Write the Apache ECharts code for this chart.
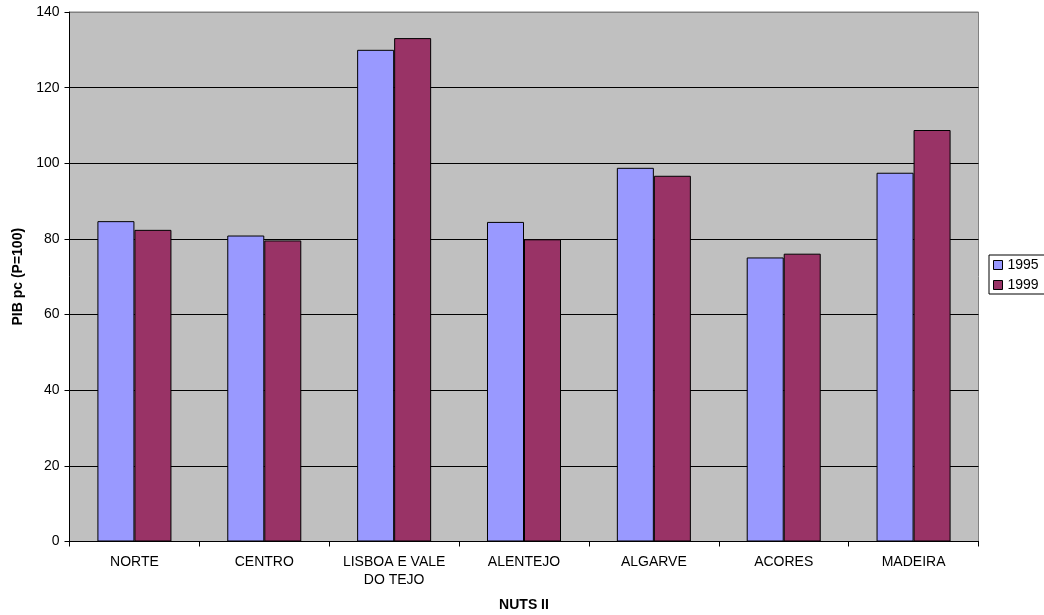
<!DOCTYPE html>
<html>
<head>
<meta charset="utf-8">
<script src="https://cdn.jsdelivr.net/npm/echarts@6/dist/echarts.min.js"></script>
<style>
  html, body { margin: 0; padding: 0; background: #fff; }
  #chart { width: 1044px; height: 615px; }
</style>
</head>
<body>
<div id="chart"></div>
<script>
// GDP per capita by NUTS II region (Portugal = 100)
const categories = ['NORTE', 'CENTRO', 'LISBOA E VALE\nDO TEJO', 'ALENTEJO', 'ALGARVE', 'ACORES', 'MADEIRA'];
const values1995 = [84.7, 80.9, 130.0, 84.5, 98.8, 75.1, 97.5];
const values1999 = [82.4, 79.6, 133.1, 79.9, 96.7, 76.1, 108.8];
const seriesNames = ['1995', '1999'];
const yTicks = [0, 20, 40, 60, 80, 100, 120, 140];

const font = 'Liberation Sans, Arial, sans-serif';
const chart = echarts.init(document.getElementById('chart'), null, { renderer: 'canvas' });

chart.setOption({
  animation: false,
  backgroundColor: '#ffffff',
  textStyle: { fontFamily: font },
  grid: {
    left: 69.5, right: 65.5, top: 12, bottom: 73.5,
    outerBoundsMode: 'none',
    containLabel: false,
    show: true, backgroundColor: '#C0C0C0', borderColor: '#808080', borderWidth: 1
  },
  legend: {
    orient: 'vertical',
    left: 989, top: 255,
    data: seriesNames,
    icon: 'rect',
    itemWidth: 9, itemHeight: 9, itemGap: 6,
    padding: [3, 30, 2, 4],
    borderColor: '#000', borderWidth: 1,
    backgroundColor: '#fff',
    itemStyle: { borderColor: '#000', borderWidth: 1 },
    textStyle: { fontFamily: font, fontSize: 14, color: '#000' }
  },
  xAxis: {
    type: 'category',
    data: categories,
    boundaryGap: true,
    name: 'NUTS II',
    nameLocation: 'middle',
    nameGap: 57,
    nameTextStyle: { fontFamily: font, fontSize: 14, fontWeight: 'bold', color: '#000' },
    axisLine: { lineStyle: { color: '#000', width: 1 } },
    axisTick: { show: true, alignWithLabel: false, length: 5, lineStyle: { color: '#000' } },
    axisLabel: { color: '#000', fontSize: 14, fontFamily: font, margin: 12, lineHeight: 18, interval: 0 },
    splitLine: { show: false }
  },
  yAxis: {
    type: 'value',
    min: yTicks[0], max: yTicks[yTicks.length - 1], interval: 20,
    name: 'PIB pc (P=100)',
    nameLocation: 'middle',
    nameGap: 43,
    nameTextStyle: { fontFamily: font, fontSize: 14, fontWeight: 'bold', color: '#000' },
    axisLine: { show: true, lineStyle: { color: '#000', width: 1 } },
    axisTick: { show: true, length: 5, lineStyle: { color: '#000' } },
    axisLabel: { color: '#000', fontSize: 14, fontFamily: font, margin: 10 },
    splitLine: {
      show: true,
      lineStyle: { color: ['#000', '#000', '#000', '#000', '#000', '#000', '#000', '#808080'], width: 1 }
    }
  },
  series: [
    {
      name: seriesNames[0], type: 'bar', data: values1995,
      barGap: '0%', barCategoryGap: '43%',
      itemStyle: { color: '#9999FF', borderColor: '#000', borderWidth: 1 }
    },
    {
      name: seriesNames[1], type: 'bar', data: values1999,
      barGap: '0%', barCategoryGap: '43%',
      itemStyle: { color: '#993366', borderColor: '#000', borderWidth: 1 }
    }
  ]
});
</script>
</body>
</html>
